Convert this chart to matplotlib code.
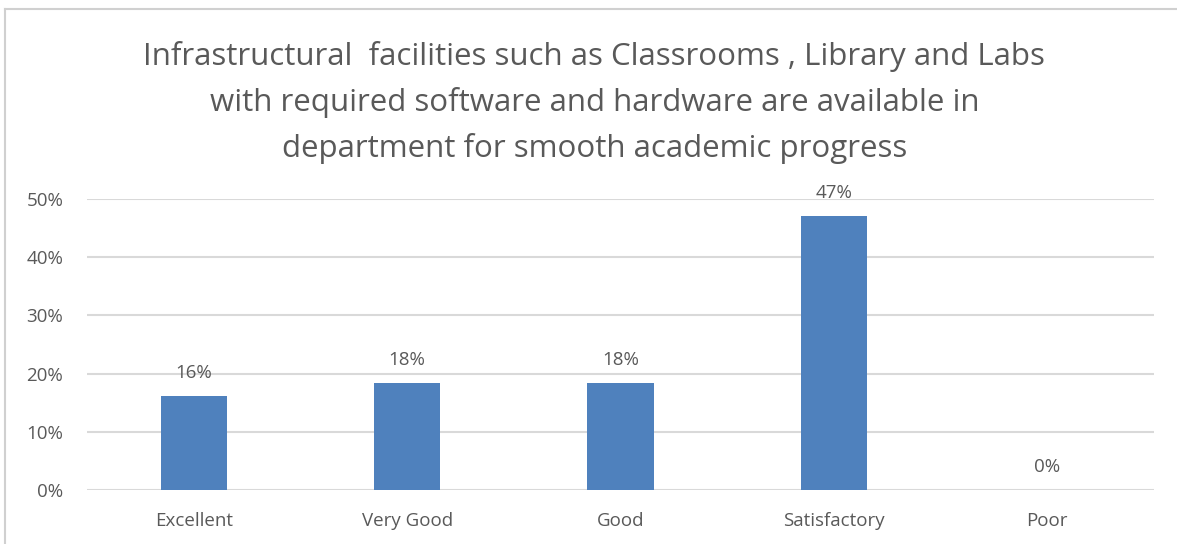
import matplotlib.pyplot as plt
from matplotlib.lines import Line2D
from matplotlib.ticker import FuncFormatter

categories = ['Excellent', 'Very Good', 'Good', 'Satisfactory', 'Poor']
values = [0.162, 0.184, 0.184, 0.471, 0.0]
yticks = [0, 0.1, 0.2, 0.3, 0.4, 0.5]
title = ("Infrastructural  facilities such as Classrooms , Library and Labs\n"
         "with required software and hardware are available in\n"
         "department for smooth academic progress")

txt = '#595959'
grid = '#D9D9D9'
bar_color = '#4F81BD'

plt.rcParams['font.family'] = ['Open Sans', 'DejaVu Sans']

fig = plt.figure(figsize=(11.77, 5.44), dpi=100)
ax = fig.add_axes([0.0739, 0.0993, 0.9066, 0.5347])

x = range(len(categories))
bars = ax.bar(x, values, width=0.31, color=bar_color, zorder=3)
for b, v in zip(bars, values):
    ax.annotate(f'{v*100:.0f}%', (b.get_x() + b.get_width() / 2, b.get_height()),
                xytext=(0, 10), textcoords='offset points', ha='center', va='bottom',
                fontsize=13.5, color=txt)

ax.set_xlim(-0.5, len(categories) - 0.5)
ax.set_ylim(0, 0.5)
ax.set_yticks(yticks)
ax.yaxis.set_major_formatter(FuncFormatter(lambda v, p: f'{v*100:.0f}%'))
ax.set_xticks(list(x))
ax.set_xticklabels(categories)
ax.grid(axis='y', color=grid, linewidth=1.5, zorder=0)
ax.tick_params(length=0, labelsize=13.5, labelcolor=txt)
ax.tick_params(axis='y', pad=17)
ax.tick_params(axis='x', pad=16)
for s in ax.spines.values():
    s.set_visible(False)

fig.text(0.505, 0.925, title, ha='center', va='top', fontsize=22.5, color=txt,
         linespacing=1.62)

# chart border (left and top edges)
fig.add_artist(Line2D([5 / 1177, 5 / 1177], [0, 1 - 9 / 544], transform=fig.transFigure,
                      color='#D0D0D0', lw=1.5))
fig.add_artist(Line2D([5 / 1177, 1], [1 - 9 / 544, 1 - 9 / 544], transform=fig.transFigure,
                      color='#D0D0D0', lw=1.5))

fig.savefig('out.png', dpi=100)
